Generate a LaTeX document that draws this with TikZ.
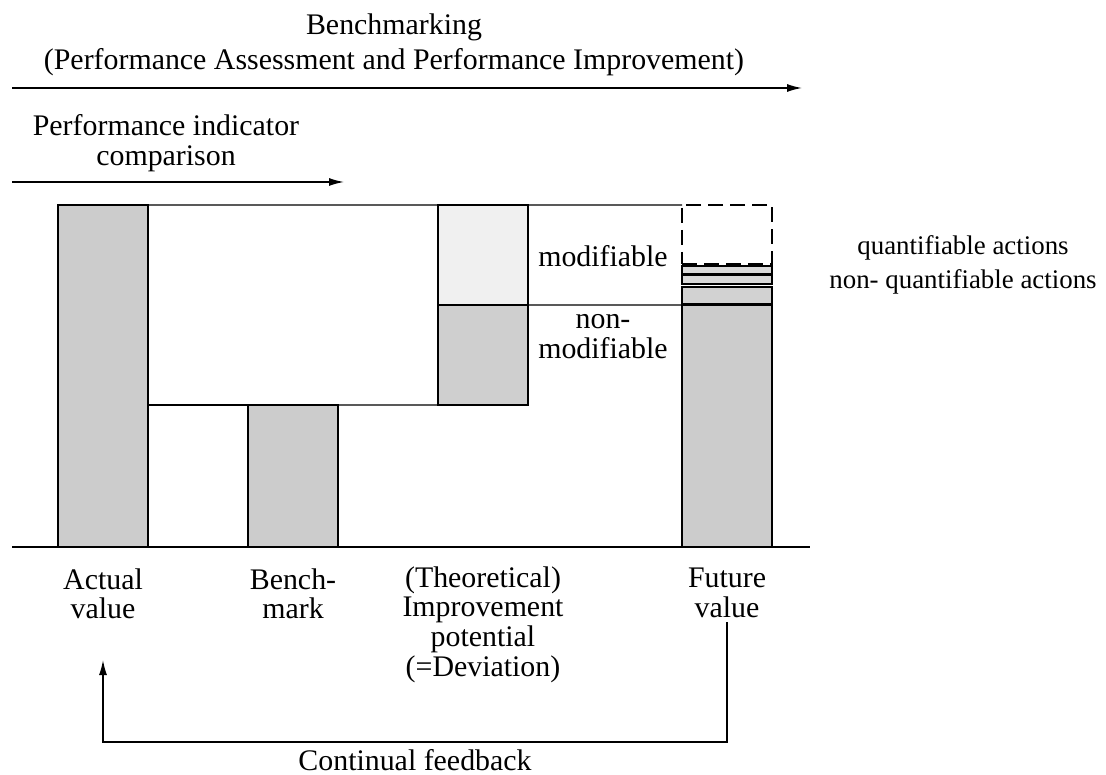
\documentclass[tikz,border=0pt]{standalone}
\usepackage{fontspec}
\setmainfont{Liberation Serif}
\usetikzlibrary{arrows.meta,shapes}

\tikzset{
	bar/.style={rectangle, draw, line width=1.2pt, inner sep=0pt, outer sep=0pt, minimum width=18mm},
	lbl/.style={align=center, font=\fontsize{17}{17}\selectfont, inner sep=0pt},
	link/.style={line width=0.8pt},
	tip/.style={-{Latex[length=3mm,width=1.6mm]}}
}

\begin{document}
\begin{tikzpicture}[x=0.2mm, y=-0.2mm]
	\useasboundingbox (0,0) rectangle (1106,775);
	% headings and arrows
	\node [lbl, font=\fontsize{17}{20}\selectfont] (bm) at (394,45) {Benchmarking\\(Performance Assessment and Performance Improvement)};
	\node [lbl] (pic) at (166,143) {Performance indicator\\comparison};
	\coordinate (bm0) at (12,88);
	\coordinate (bm1) at (802,88);
	\coordinate (pic0) at (12,182);
	\coordinate (pic1) at (344,182);
	\coordinate (base0) at (12,547);
	\coordinate (base1) at (810,547);
	% bars
	\node [bar, fill=gray!40, minimum height=68.4mm] (actual) at (103,376) {};
	\node [bar, fill=gray!40, minimum height=28.4mm] (bench) at (293,476) {};
	\node [bar, fill=gray!12, minimum height=20mm] (theoup) at (483,255) {};
	\node [bar, fill=gray!38, minimum height=20mm] (theolow) at (483,355) {};
	\node [bar, fill=gray!40, minimum height=48.4mm] (future) at (727,426) {};
	\node [bar, dashed, dash pattern=on 3mm off 1.4mm, line width=0.9pt, minimum height=11.8mm] (fdash) at (727,234.5) {};
	\node [bar, fill=gray!30, minimum height=1.6mm] (fs1) at (727,270) {};
	\node [bar, fill=gray!30, minimum height=1.8mm] (fs2) at (727,279.5) {};
	\node [bar, fill=gray!35, minimum height=3.4mm] (fs3) at (727,295.5) {};
	% texts
	\node [lbl] (modi) at (603,256) {modifiable};
	\node [lbl] (nonmodi) at (603,337) {non-\\modifiable};
	\node [lbl, font=\fontsize{15.3}{19.5}\selectfont] (qa) at (963,265) {quantifiable actions\\non- quantifiable actions};
	\node [lbl, anchor=north] (actlbl) at (103,568) {Actual\\value};
	\node [lbl, anchor=north] (benchlbl) at (293,568) {Bench-\\mark};
	\node [lbl, anchor=north] (theolbl) at (483,566) {(Theoretical)\\Improvement\\potential\\(=Deviation)};
	\node [lbl, anchor=north] (futlbl) at (727,568) {Future\\value};
	\node [lbl] (feed) at (415,760) {Continual feedback};
	\coordinate (fb0) at (103,742);
	\coordinate (fb1) at (727,742);
	% connectors
	\foreach \from/\to in {
		actual.north east/theoup.north west, theoup.north east/fdash.north west,
		theoup.south east/future.north west, bench.north east/theolow.south west,
		base0/base1}
	\draw [link] (\from) -- (\to);
	\draw [link] (bench.north west) -- (bench.north west -| actual.east);
	\draw [link, tip] (bm0) -- (bm1);
	\draw [link, tip] (pic0) -- (pic1);
	\draw [link, tip] (futlbl.south |- 0,622) -- (fb1) -- (fb0) -- (actlbl.south |- 0,660);
\end{tikzpicture}
\end{document}
